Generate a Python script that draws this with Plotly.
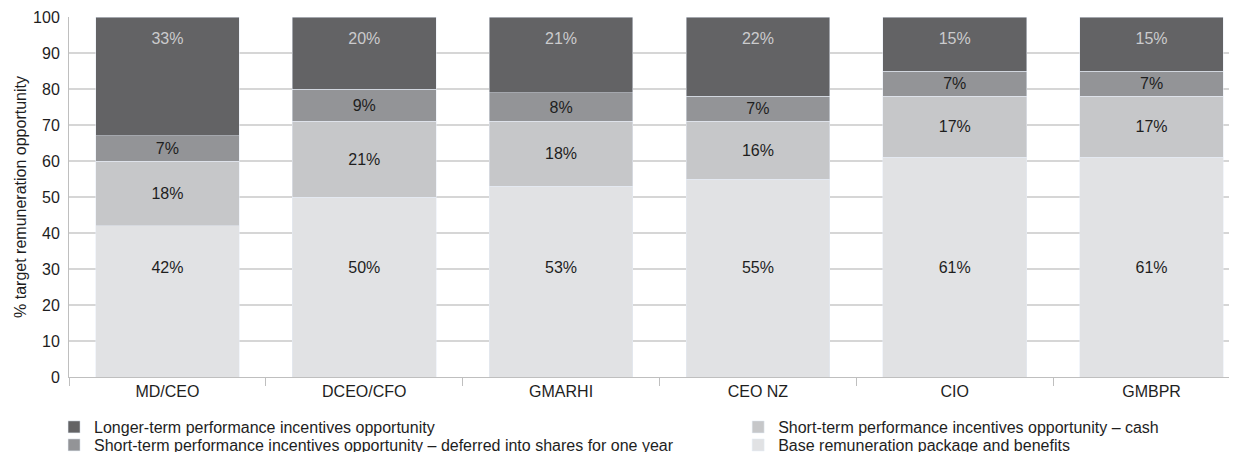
import plotly.graph_objects as go

categories = ["MD/CEO", "DCEO/CFO", "GMARHI", "CEO NZ", "CIO", "GMBPR"]
base = [42, 50, 53, 55, 61, 61]
cash = [18, 21, 18, 16, 17, 17]
deferred = [7, 9, 8, 7, 7, 7]
longer = [33, 20, 21, 22, 15, 15]

names = {
    "longer": "Longer-term performance incentives opportunity",
    "deferred": "Short-term performance incentives opportunity \u2013 deferred into shares for one year",
    "cash": "Short-term performance incentives opportunity \u2013 cash",
    "base": "Base remuneration package and benefits",
}
y_ticks = [0, 10, 20, 30, 40, 50, 60, 70, 80, 90, 100]

# style constants
FONT = "Arial, Liberation Sans, Helvetica, sans-serif"
FS = 16
C_LONGER = "#636365"
C_DEFERRED = "#939497"
C_CASH = "#c6c7c9"
C_BASE = "#e1e2e4"
TXT = "#1e1e1e"
TXT_LIGHT = "#cbcbcd"
BASE_LABEL_Y = 30
TOP_LABEL_Y = 93.5

seg_text = dict(texttemplate="%{y}%", textposition="inside", insidetextanchor="middle",
                textangle=0, constraintext="none",
                textfont=dict(color=TXT, size=FS, family=FONT))

fig = go.Figure()

fig.add_trace(go.Bar(x=categories, y=base, name=names["base"], marker_color=C_BASE,
                     legend="legend4", hoverinfo="skip"))
fig.add_trace(go.Bar(x=categories, y=cash, name=names["cash"], marker_color=C_CASH,
                     legend="legend3", hoverinfo="skip", **seg_text))
fig.add_trace(go.Bar(x=categories, y=deferred, name=names["deferred"], marker_color=C_DEFERRED,
                     legend="legend2", hoverinfo="skip", **seg_text))
fig.add_trace(go.Bar(x=categories, y=longer, name=names["longer"], marker_color=C_LONGER,
                     legend="legend", hoverinfo="skip"))

# labels for base and top segments
fig.add_trace(go.Scatter(x=categories, y=[BASE_LABEL_Y] * len(categories), mode="text",
                         text=[f"{v}%" for v in base], showlegend=False, hoverinfo="skip",
                         textfont=dict(color=TXT, size=FS, family=FONT)))
fig.add_trace(go.Scatter(x=categories, y=[TOP_LABEL_Y] * len(categories), mode="text",
                         text=[f"{v}%" for v in longer], showlegend=False, hoverinfo="skip",
                         textfont=dict(color=TXT_LIGHT, size=FS, family=FONT)))

legend_style = dict(orientation="v", yanchor="top", xanchor="left",
                    font=dict(size=FS, color=TXT), bgcolor="rgba(0,0,0,0)")
COL1_X, COL2_X = -0.0128, 0.5729
ROW1_Y, ROW2_Y = -0.0917, -0.1417

# the page body has an 8px top margin; figure sized so the plot lands where the reference has it
fig.update_layout(
    barmode="stack",
    bargap=0.27,
    width=1237, height=452,
    margin=dict(l=61, r=8, t=9, b=83, autoexpand=False),
    paper_bgcolor="white", plot_bgcolor="white",
    font=dict(family=FONT, size=FS, color=TXT),
    legend=dict(x=COL1_X, y=ROW1_Y, **legend_style),
    legend2=dict(x=COL1_X, y=ROW2_Y, **legend_style),
    legend3=dict(x=COL2_X, y=ROW1_Y, **legend_style),
    legend4=dict(x=COL2_X, y=ROW2_Y, **legend_style),
    xaxis=dict(
        range=[-0.5, 5.434],
        showgrid=False,
        showline=True, linecolor="#bfbfbf", linewidth=1,
        ticks="outside", tickson="boundaries", ticklen=8, tickcolor="#bfbfbf",
        tickfont=dict(size=FS, color=TXT),
        fixedrange=True,
    ),
    yaxis=dict(
        range=[0, 100],
        tickvals=y_ticks,
        showgrid=True, gridcolor="#d6d6d6", gridwidth=1.5,
        showline=True, linecolor="#bfbfbf", linewidth=1,
        ticks="", ticklabelstandoff=5,
        tickfont=dict(size=FS, color=TXT),
        title=dict(text="% target remuneration opportunity", standoff=2,
                   font=dict(size=FS, color=TXT)),
        zeroline=False,
        fixedrange=True,
    ),
)

fig.write_html("out.html")
